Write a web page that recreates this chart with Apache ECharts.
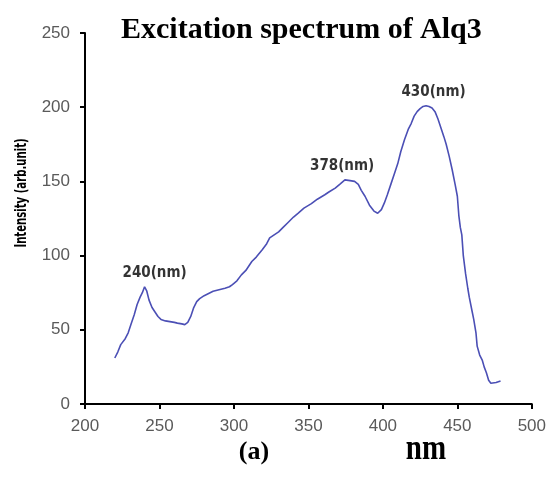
<!DOCTYPE html>
<html>
<head>
<meta charset="utf-8">
<script src="https://cdn.jsdelivr.net/npm/echarts@6/dist/echarts.min.js"></script>
<style>
html,body{margin:0;padding:0;background:#fff;}
#chart{width:549px;height:479px;}
</style>
</head>
<body>
<div id="chart"></div>
<script>
// Wavelength (nm)
const wavelength = [220,222,224,227,229,231,233,235,237,238.5,240,241.5,243,245,247,249,251,254,257,260,262,265,267,269,271,273,275,277,280,283,286,290,294,297,299,302,305,308,312,315,319,322,324,327,330,333,336,340,343,347,352,356,361,364,368,371,374.5,378,381,383.5,385.5,388,391,394,396.5,399,401,403,405.5,408,410,412,414.5,417,419,421,423,425,427,429,431,433,435,437,439,441,442.5,444.5,446.5,448.5,450,451,452,453,454,455.5,457,458,460,461,462.5,463.3,465,466.7,468,469.5,471,472.5,476,479];
// Intensity (arb. unit)
const intensity = [31,35,40,44,48,54,60,67,72,75,79,76,70,65,62,59,57,56,55.5,55,54.5,54,53.5,55,59,65,69,71,73,74.5,76,77,78,79,80.5,83,87,90,96,99,104,108,112,114,116,119,122,126,128.5,132,135,138,141,143,145.5,148,151,150.5,150,148,144,140,134,130,128.5,131,135.5,141,148.5,156,162,170,178,185,189,194,197,199,200.5,201,200.5,199.5,197,192,186,180,175,167,158,148,140,127,119,114,100,88,78,72,62,57,48,39,33,29.6,25,21,16,14,14.5,15.5];
// Peak annotations
const peakX = [240, 378, 430];
const peakY = [79, 151, 201];
const peakLabels = ['240(nm)', '378(nm)', '430(nm)'];
// Axis ticks
const xTicks = [200,250,300,350,400,450,500];
const yTicks = [0,50,100,150,200,250];

const chart = echarts.init(document.getElementById('chart'), null, {renderer:'canvas'});
const lineData = wavelength.map((w,i)=>[w, intensity[i]]);
const labelOffsets = [[10,0],[-8,0],[6,0]];
const peakData = peakX.map((x,i)=>({value:[x, peakY[i]], name: peakLabels[i], label:{offset:labelOffsets[i]}}));
const condensed = "'DejaVu Sans Condensed','Liberation Sans Narrow','DejaVu Sans',sans-serif";
const serif = "'Liberation Serif','DejaVu Serif',serif";
const sans = "'Liberation Sans',Arial,sans-serif";

chart.setOption({
  animation:false,
  backgroundColor:'#fff',
  title:{
    text:'Excitation spectrum of Alq3',
    left:116, top:10,
    textStyle:{fontFamily:serif, fontWeight:'bold', fontSize:30, color:'#000'}
  },
  grid:{left:85, right:14, top:33, bottom:75, containLabel:false},
  xAxis:{
    type:'value', min:xTicks[0], max:xTicks[xTicks.length-1], interval:50,
    axisLine:{show:true, lineStyle:{color:'#000', width:2}},
    axisTick:{show:true, length:5, lineStyle:{color:'#000', width:2}},
    axisLabel:{color:'#5a5a5a', fontFamily:sans, fontSize:17, margin:14},
    splitLine:{show:false}
  },
  yAxis:{
    type:'value', min:yTicks[0], max:yTicks[yTicks.length-1], interval:50,
    axisLine:{show:true, lineStyle:{color:'#000', width:2}},
    axisTick:{show:true, length:5, lineStyle:{color:'#000', width:2}},
    axisLabel:{color:'#5a5a5a', fontFamily:sans, fontSize:17, margin:15},
    splitLine:{show:false}
  },
  graphic:[{
    type:'text', x:22, y:193, rotation:Math.PI/2, scaleX:0.75, scaleY:1.05,
    style:{text:'Intensity (arb.unit)', fontFamily:condensed, fontWeight:'bold', fontSize:15, fill:'#000', textAlign:'center', textVerticalAlign:'middle'}
  },{
    type:'text', x:254, y:452,
    style:{text:'(a)', fontFamily:serif, fontWeight:'bold', fontSize:26, fill:'#000', textAlign:'center', textVerticalAlign:'middle'}
  },{
    type:'text', x:426, y:450, scaleY:1.2,
    style:{text:'nm', fontFamily:serif, fontWeight:'bold', fontSize:29, fill:'#000', textAlign:'center', textVerticalAlign:'middle'}
  }],
  series:[{
    type:'line', data:lineData, showSymbol:false, smooth:false,
    lineStyle:{color:'#4b4fb5', width:1.6}
  },{
    type:'scatter', data:peakData, symbolSize:0, silent:true,
    label:{show:true, position:'top', distance:6, formatter:p=>p.name,
      fontFamily:condensed, fontWeight:'bold', fontSize:15, color:'#000'}
  }]
});
</script>
</body>
</html>
